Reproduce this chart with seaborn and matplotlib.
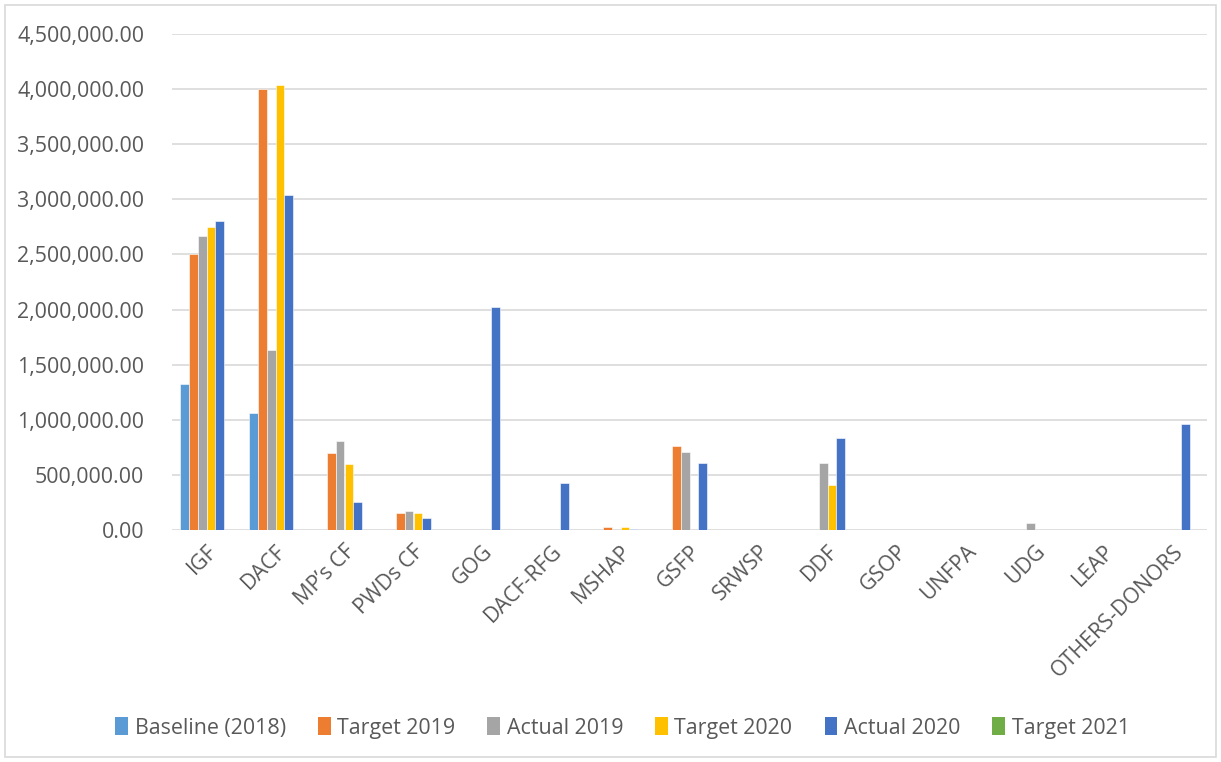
import matplotlib
matplotlib.use("Agg")
import matplotlib.pyplot as plt
import matplotlib.ticker as mticker
from matplotlib.patches import Rectangle, Patch
import seaborn as sns
import pandas as pd

categories = ["IGF", "DACF", "MP\u2019s CF", "PWDs CF", "GOG", "DACF-RFG", "MSHAP", "GSFP",
              "SRWSP", "DDF", "GSOP", "UNFPA", "UDG", "LEAP", "OTHERS-DONORS"]
series = ["Baseline (2018)", "Target 2019", "Actual 2019", "Target 2020", "Actual 2020", "Target 2021"]
baseline_2018 = [1325000, 1060000, 0, 0, 0, 0, 0, 0, 0, 0, 0, 0, 0, 0, 0]
target_2019 = [2500000, 4000000, 700000, 152000, 0, 0, 25000, 763000, 0, 0, 0, 0, 0, 0, 0]
actual_2019 = [2668000, 1633000, 808000, 172000, 0, 0, 3000, 708000, 0, 608000, 0, 0, 64000, 0, 0]
target_2020 = [2750000, 4040000, 600000, 150000, 0, 0, 25000, 0, 0, 408000, 0, 0, 0, 0, 0]
actual_2020 = [2804000, 3040000, 254000, 109000, 2023000, 427000, 9000, 608000, 0, 835000, 0, 0, 0, 0, 962000]
target_2021 = [0] * 15
colors = ["#5B9BD5", "#ED7D31", "#A5A5A5", "#FFC000", "#4472C4", "#70AD47"]

values = [baseline_2018, target_2019, actual_2019, target_2020, actual_2020, target_2021]
rows = []
for s, vals in zip(series, values):
    for c, v in zip(categories, vals):
        rows.append({"Source": c, "Series": s, "Value": v})
df = pd.DataFrame(rows)

sns.set_theme(style="white")
plt.rcParams["font.family"] = ["Open Sans", "DejaVu Sans"]

fig = plt.figure(figsize=(12.21, 7.62), dpi=100)
ax = fig.add_axes([172 / 1221, 1 - 530 / 762, (1207 - 172) / 1221, (530 - 34) / 762])

sns.barplot(data=df, x="Source", y="Value", hue="Series", order=categories, hue_order=series,
            palette=colors, width=0.78, edgecolor="white", linewidth=0.4, saturation=1,
            ax=ax, legend=False)

ax.set_ylim(0, 4500000)
ax.set_xlim(-0.5, len(categories) - 0.5)
ax.yaxis.set_major_locator(mticker.MultipleLocator(500000))
ax.yaxis.set_major_formatter(mticker.FuncFormatter(lambda v, p: f"{v:,.2f}"))
ax.grid(axis="y", color="#D9D9D9", linewidth=1.2)
ax.set_axisbelow(True)
for sp in ax.spines.values():
    sp.set_visible(False)
ax.set_xlabel("")
ax.set_ylabel("")
ax.tick_params(axis="both", length=0, labelsize=15.4, labelcolor="#595959")
ax.tick_params(axis="y", pad=20)
ax.tick_params(axis="x", pad=8)
plt.setp(ax.get_xticklabels(), rotation=45, ha="right", rotation_mode="anchor")

handles = [Patch(facecolor=c, edgecolor="none") for c in colors]
fig.legend(handles, series, loc="center", bbox_to_anchor=(0.5 + 12 / 1221, 1 - 728 / 762), ncol=6,
           frameon=False, fontsize=15.4, labelcolor="#595959", handlelength=0.6,
           handleheight=0.9, handletextpad=0.3, columnspacing=1.5)

fig.patches.append(Rectangle((5 / 1221, 5 / 762), 1211 / 1221, 752 / 762, transform=fig.transFigure,
                             fill=False, edgecolor="#D9D9D9", linewidth=1.2))

fig.savefig("out.png", dpi=100)
